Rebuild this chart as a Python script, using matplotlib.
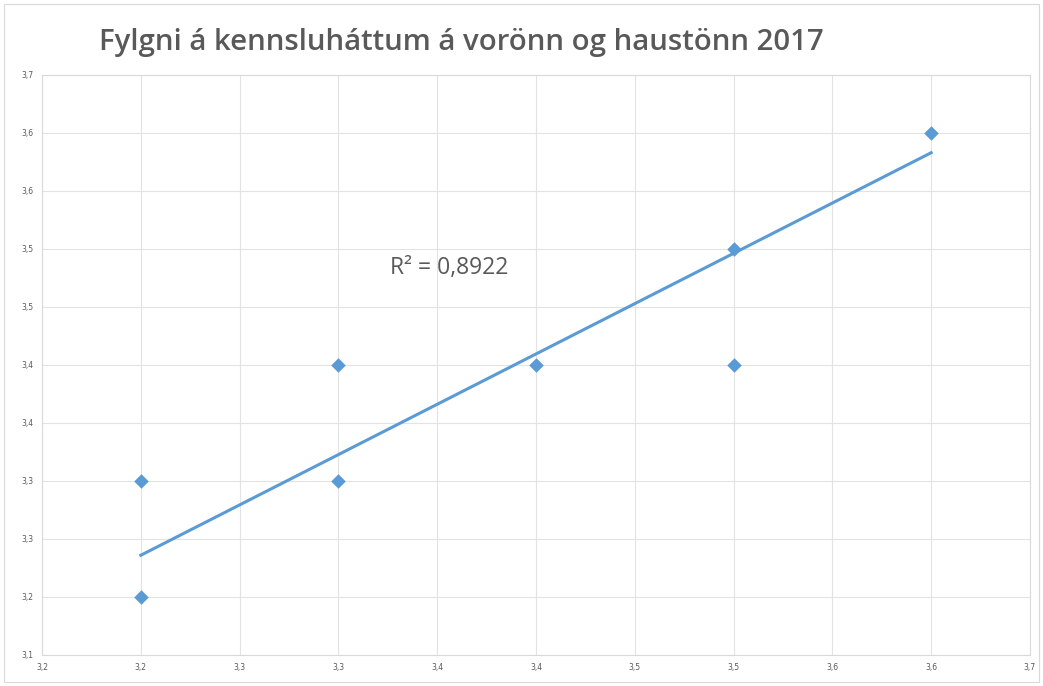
import numpy as np
import matplotlib.pyplot as plt

# Datos
vor = [3.2, 3.2, 3.3, 3.3, 3.4, 3.5, 3.5, 3.6]
haust = [3.3, 3.2, 3.4, 3.3, 3.4, 3.5, 3.4, 3.6]

# Línea de tendencia (extremos)
trend_x = [3.2, 3.6]
trend_y = [3.236, 3.583]

ticks = [3.15, 3.2, 3.25, 3.3, 3.35, 3.4, 3.45, 3.5, 3.55, 3.6, 3.65]
x_labels = ['3,2', '3,2', '3,3', '3,3', '3,4', '3,4', '3,5', '3,5', '3,6', '3,6', '3,7']
y_labels = ['3,1', '3,2', '3,3', '3,3', '3,4', '3,4', '3,5', '3,5', '3,6', '3,6', '3,7']

blue = '#5B9BD5'
grey = '#595959'

fig = plt.figure(figsize=(10.43, 6.86), dpi=100)
ax = fig.add_axes([0.0403, 0.0452, 0.9472, 0.8455])

ax.plot(trend_x, trend_y, color=blue, lw=2.2, zorder=2)
ax.scatter(vor, haust, marker='D', s=55, color=blue, zorder=3, linewidths=0)

ax.set_xlim(3.15, 3.65)
ax.set_ylim(3.15, 3.65)
ax.set_xticks(ticks)
ax.set_xticklabels(x_labels)
ax.set_yticks(ticks)
ax.set_yticklabels(y_labels)
ax.tick_params(labelsize=5.5, colors=grey, length=0, pad=6)
ax.grid(True, color='#e3e3e3', lw=0.8)
for s in ax.spines.values():
    s.set_color('#d9d9d9')
    s.set_linewidth(0.8)

ax.text(3.326, 3.484, 'R² = 0,8922', fontsize=16.5, color=grey, family='Open Sans',
        va='center')

fig.text(0.442, 0.938, 'Fylgni á kennsluháttum á vorönn og haustönn 2017',
         ha='center', va='center', fontsize=21.2, fontweight='semibold',
         color=grey, family='Open Sans')

# marco exterior
fig.patches.append(plt.Rectangle((0.004, 0.006), 0.992, 0.988, transform=fig.transFigure,
                                 fill=False, edgecolor='#d9d9d9', lw=0.8))

plt.savefig('out.png', dpi=100)
